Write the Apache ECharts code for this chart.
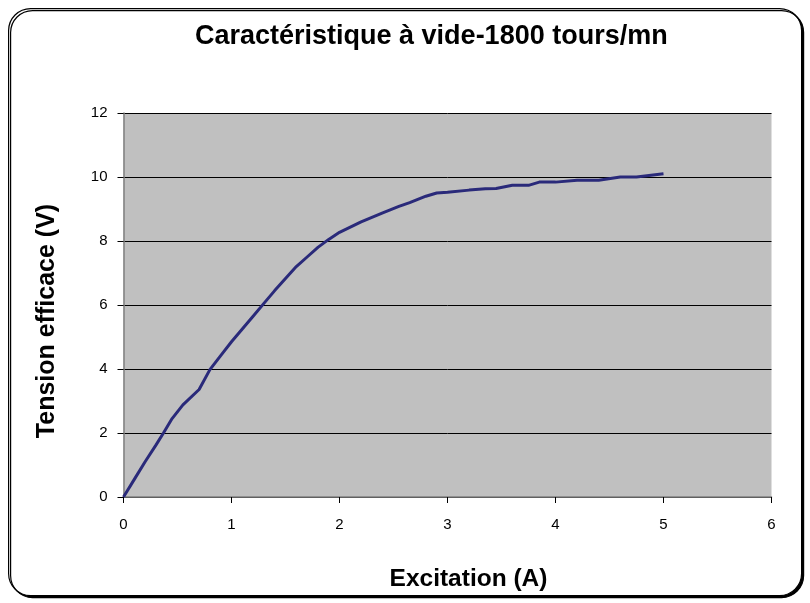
<!DOCTYPE html>
<html>
<head>
<meta charset="utf-8">
<script src="https://cdn.jsdelivr.net/npm/echarts@6/dist/echarts.min.js"></script>
<style>html,body{margin:0;padding:0;background:#fff;}#c{width:810px;height:603px;}</style>
</head>
<body>
<div id="c"></div>
<script>
const excitation = [0, 0.1, 0.2, 0.3, 0.37, 0.45, 0.55, 0.7, 0.8, 0.9, 1.0, 1.1, 1.2, 1.3, 1.4, 1.5, 1.6, 1.7, 1.8, 1.9, 2.0, 2.2, 2.4, 2.55, 2.65, 2.8, 2.9, 3.0, 3.2, 3.35, 3.45, 3.6, 3.75, 3.85, 4.0, 4.2, 4.4, 4.6, 4.75, 5.0];
const tension = [0, 0.55, 1.1, 1.62, 2.0, 2.45, 2.88, 3.36, 3.98, 4.42, 4.85, 5.25, 5.65, 6.05, 6.45, 6.83, 7.2, 7.5, 7.8, 8.05, 8.27, 8.6, 8.88, 9.08, 9.2, 9.4, 9.5, 9.52, 9.59, 9.63, 9.64, 9.74, 9.74, 9.84, 9.84, 9.9, 9.9, 10.0, 10.0, 10.1];
const title = 'Caractéristique à vide-1800 tours/mn';
const xName = 'Excitation (A)';
const yName = 'Tension efficace (V)';

const chart = echarts.init(document.getElementById('c'));
const font = 'Liberation Sans, Arial, sans-serif';
chart.setOption({
  animation: false,
  graphic: [{
    type: 'rect', left: 8, top: 8, z: -10,
    shape: { width: 793, height: 587, r: 22 },
    style: { fill: '#fff', stroke: '#000', lineWidth: 1.2, shadowColor: '#000', shadowOffsetX: 2, shadowOffsetY: 2, shadowBlur: 0 }
  }],
  title: {
    text: title, left: 190, top: 18,
    textStyle: { fontFamily: font, fontWeight: 'bold', fontSize: 27, color: '#000' }
  },
  grid: { left: 123.5, right: 38.5, top: 113, bottom: 106, show: true, backgroundColor: '#c0c0c0', borderWidth: 0 },
  xAxis: {
    type: 'value', min: 0, max: 6, interval: 1,
    name: xName, nameLocation: 'middle', nameGap: 70,
    nameTextStyle: { fontFamily: font, fontWeight: 'bold', fontSize: 24.5, color: '#000', padding: [0, 0, 0, 42] },
    axisLine: { show: true, onZero: false, lineStyle: { color: '#808080', width: 1.5 } },
    axisTick: { show: true, length: 6, lineStyle: { color: '#000' } },
    axisLabel: { fontFamily: font, fontSize: 15, color: '#000', margin: 20 },
    splitLine: { show: false }
  },
  yAxis: {
    type: 'value', min: 0, max: 12, interval: 2,
    name: yName, nameLocation: 'middle', nameGap: 64, nameRotate: 90,
    nameTextStyle: { fontFamily: font, fontWeight: 'bold', fontSize: 25, color: '#000', padding: [0, 32, 0, 0] },
    axisLine: { show: true, onZero: false, lineStyle: { color: '#808080', width: 1.5 } },
    axisTick: { show: true, length: 6, lineStyle: { color: '#000' } },
    axisLabel: { fontFamily: font, fontSize: 15, color: '#000', margin: 16 },
    splitLine: { show: true, lineStyle: { color: '#000', width: 1 } }
  },
  series: [{
    type: 'line',
    data: excitation.map((x, i) => [x, tension[i]]),
    showSymbol: false, smooth: false,
    lineStyle: { color: '#2a2a7a', width: 3 }
  }]
});
</script>
</body>
</html>
